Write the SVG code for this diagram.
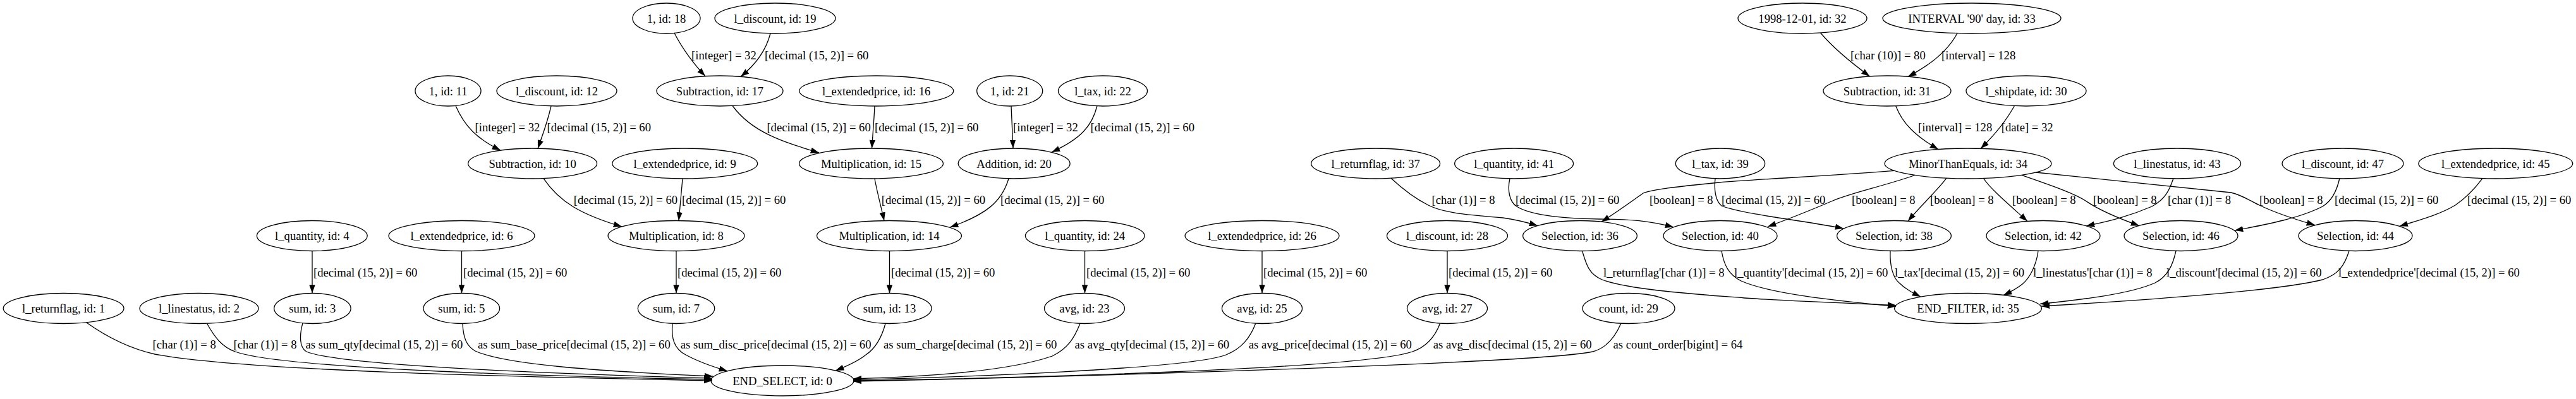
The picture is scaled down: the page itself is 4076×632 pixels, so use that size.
<svg xmlns="http://www.w3.org/2000/svg" width="4076" height="632" viewBox="0 0 4076 632">
<style>
.node ellipse{fill:none;stroke:#000;stroke-width:1.3}
text{font-family:"Liberation Serif","Times New Roman",serif;font-size:18.67px;fill:#000}
.node text{text-anchor:middle}
.edge path{fill:none;stroke:#000;stroke-width:1.3;marker-end:url(#arr)}
</style>
<defs>
<marker id="arr" markerUnits="userSpaceOnUse" markerWidth="14" markerHeight="10" refX="13.3" refY="4.7" orient="auto">
<path d="M0,0 L13.3,4.7 L0,9.4 Z" fill="#000"/>
</marker>
</defs>
<rect width="4076" height="632" fill="#fff"/>
<g id="nodes">
<g id="n18" class="node"><ellipse cx="1054.5" cy="29" rx="53.5" ry="24"/><text x="1054.5" y="35.5">1, id: 18</text></g>
<g id="n19" class="node"><ellipse cx="1226.5" cy="29" rx="95.5" ry="24"/><text x="1226.5" y="35.5">l_discount, id: 19</text></g>
<g id="n32" class="node"><ellipse cx="2852" cy="29" rx="102" ry="24"/><text x="2852" y="35.5">1998-12-01, id: 32</text></g>
<g id="n33" class="node"><ellipse cx="3120" cy="29" rx="141" ry="24"/><text x="3120" y="35.5">INTERVAL '90' day, id: 33</text></g>

<g id="n11" class="node"><ellipse cx="709" cy="144" rx="52" ry="24"/><text x="709" y="150.5">1, id: 11</text></g>
<g id="n12" class="node"><ellipse cx="881" cy="144" rx="95" ry="24"/><text x="881" y="150.5">l_discount, id: 12</text></g>
<g id="n17" class="node"><ellipse cx="1139" cy="144" rx="100" ry="24"/><text x="1139" y="150.5">Subtraction, id: 17</text></g>
<g id="n16" class="node"><ellipse cx="1386.7" cy="144" rx="122" ry="24"/><text x="1386.7" y="150.5">l_extendedprice, id: 16</text></g>
<g id="n21" class="node"><ellipse cx="1597.7" cy="144" rx="52" ry="24"/><text x="1597.7" y="150.5">1, id: 21</text></g>
<g id="n22" class="node"><ellipse cx="1745" cy="144" rx="70.5" ry="24"/><text x="1745" y="150.5">l_tax, id: 22</text></g>
<g id="n31" class="node"><ellipse cx="2986" cy="144" rx="101" ry="24"/><text x="2986" y="150.5">Subtraction, id: 31</text></g>
<g id="n30" class="node"><ellipse cx="3206" cy="144" rx="95" ry="24"/><text x="3206" y="150.5">l_shipdate, id: 30</text></g>

<g id="n10" class="node"><ellipse cx="842.6" cy="259" rx="102" ry="24"/><text x="842.6" y="265.5">Subtraction, id: 10</text></g>
<g id="n9" class="node"><ellipse cx="1083.7" cy="259" rx="115" ry="24"/><text x="1083.7" y="265.5">l_extendedprice, id: 9</text></g>
<g id="n15" class="node"><ellipse cx="1378.5" cy="259" rx="114" ry="24"/><text x="1378.5" y="265.5">Multiplication, id: 15</text></g>
<g id="n20" class="node"><ellipse cx="1604.6" cy="259" rx="88.5" ry="24"/><text x="1604.6" y="265.5">Addition, id: 20</text></g>
<g id="n37" class="node"><ellipse cx="2176.6" cy="259" rx="102" ry="24"/><text x="2176.6" y="265.5">l_returnflag, id: 37</text></g>
<g id="n41" class="node"><ellipse cx="2395.6" cy="259" rx="94" ry="24"/><text x="2395.6" y="265.5">l_quantity, id: 41</text></g>
<g id="n39" class="node"><ellipse cx="2722" cy="259" rx="70.7" ry="24"/><text x="2722" y="265.5">l_tax, id: 39</text></g>
<g id="n34" class="node"><ellipse cx="3114" cy="259" rx="132" ry="24"/><text x="3114" y="265.5">MinorThanEquals, id: 34</text></g>
<g id="n43" class="node"><ellipse cx="3445" cy="259" rx="100.6" ry="24"/><text x="3445" y="265.5">l_linestatus, id: 43</text></g>
<g id="n47" class="node"><ellipse cx="3707" cy="259" rx="96" ry="24"/><text x="3707" y="265.5">l_discount, id: 47</text></g>
<g id="n45" class="node"><ellipse cx="3948.8" cy="259" rx="122" ry="24"/><text x="3948.8" y="265.5">l_extendedprice, id: 45</text></g>

<g id="n4" class="node"><ellipse cx="493.8" cy="373.5" rx="87.4" ry="24"/><text x="493.8" y="380">l_quantity, id: 4</text></g>
<g id="n6" class="node"><ellipse cx="730.5" cy="373.5" rx="115.5" ry="24"/><text x="730.5" y="380">l_extendedprice, id: 6</text></g>
<g id="n8" class="node"><ellipse cx="1070" cy="373.5" rx="108" ry="24"/><text x="1070" y="380">Multiplication, id: 8</text></g>
<g id="n14" class="node"><ellipse cx="1407" cy="373.5" rx="114.5" ry="24"/><text x="1407" y="380">Multiplication, id: 14</text></g>
<g id="n24" class="node"><ellipse cx="1716.7" cy="373.5" rx="94.3" ry="24"/><text x="1716.7" y="380">l_quantity, id: 24</text></g>
<g id="n26" class="node"><ellipse cx="1997" cy="373.5" rx="122" ry="24"/><text x="1997" y="380">l_extendedprice, id: 26</text></g>
<g id="n28" class="node"><ellipse cx="2290" cy="373.5" rx="95.5" ry="24"/><text x="2290" y="380">l_discount, id: 28</text></g>
<g id="n36" class="node"><ellipse cx="2500" cy="373.5" rx="90.4" ry="24"/><text x="2500" y="380">Selection, id: 36</text></g>
<g id="n40" class="node"><ellipse cx="2722" cy="373.5" rx="90" ry="24"/><text x="2722" y="380">Selection, id: 40</text></g>
<g id="n38" class="node"><ellipse cx="2997" cy="373.5" rx="90.4" ry="24"/><text x="2997" y="380">Selection, id: 38</text></g>
<g id="n42" class="node"><ellipse cx="3233" cy="373.5" rx="90" ry="24"/><text x="3233" y="380">Selection, id: 42</text></g>
<g id="n46" class="node"><ellipse cx="3451" cy="373.5" rx="90" ry="24"/><text x="3451" y="380">Selection, id: 46</text></g>
<g id="n44" class="node"><ellipse cx="3727" cy="373.5" rx="90" ry="24"/><text x="3727" y="380">Selection, id: 44</text></g>

<g id="n1" class="node"><ellipse cx="100.6" cy="488.5" rx="95.4" ry="24"/><text x="100.6" y="495">l_returnflag, id: 1</text></g>
<g id="n2" class="node"><ellipse cx="315" cy="488.5" rx="94" ry="24"/><text x="315" y="495">l_linestatus, id: 2</text></g>
<g id="n3" class="node"><ellipse cx="494.4" cy="488.5" rx="60.7" ry="24"/><text x="494.4" y="495">sum, id: 3</text></g>
<g id="n5" class="node"><ellipse cx="730.3" cy="488.5" rx="60.3" ry="24"/><text x="730.3" y="495">sum, id: 5</text></g>
<g id="n7" class="node"><ellipse cx="1070" cy="488.5" rx="60.7" ry="24"/><text x="1070" y="495">sum, id: 7</text></g>
<g id="n13" class="node"><ellipse cx="1407.5" cy="488.5" rx="66.5" ry="24"/><text x="1407.5" y="495">sum, id: 13</text></g>
<g id="n23" class="node"><ellipse cx="1716" cy="488.5" rx="63.5" ry="24"/><text x="1716" y="495">avg, id: 23</text></g>
<g id="n25" class="node"><ellipse cx="1997" cy="488.5" rx="63.5" ry="24"/><text x="1997" y="495">avg, id: 25</text></g>
<g id="n27" class="node"><ellipse cx="2290" cy="488.5" rx="63.5" ry="24"/><text x="2290" y="495">avg, id: 27</text></g>
<g id="n29" class="node"><ellipse cx="2577" cy="488.5" rx="73" ry="24"/><text x="2577" y="495">count, id: 29</text></g>
<g id="n35" class="node"><ellipse cx="3114" cy="488.5" rx="116.4" ry="24"/><text x="3114" y="495">END_FILTER, id: 35</text></g>

<g id="n0" class="node"><ellipse cx="1238" cy="603" rx="113" ry="24"/><text x="1238" y="609.5">END_SELECT, id: 0</text></g>
</g>

<g id="connectors">
<g class="edge"><path d="M1067,52.3 C1080,78 1100,104 1116,120.6"/><text x="1094" y="93.5">[integer] = 32</text></g>
<g class="edge"><path d="M1219,53 C1212,80 1195,103 1172,121.3"/><text x="1210" y="93.5">[decimal (15, 2)] = 60</text></g>
<g class="edge"><path d="M721,167.4 C735,200 755,220 792,238"/><text x="751.6" y="208">[integer] = 32</text></g>
<g class="edge"><path d="M872,168 C866,195 858,215 851,235.2"/><text x="865.6" y="208">[decimal (15, 2)] = 60</text></g>
<g class="edge"><path d="M1159,167.5 C1190,210 1240,225 1296,242"/><text x="1213.4" y="208">[decimal (15, 2)] = 60</text></g>
<g class="edge"><path d="M1384,168 C1383,190 1381,212 1379.5,235"/><text x="1384" y="208">[decimal (15, 2)] = 60</text></g>
<g class="edge"><path d="M1600,168 C1601,190 1602,212 1603,235"/><text x="1603" y="208">[integer] = 32</text></g>
<g class="edge"><path d="M1736,167.5 C1728,200 1710,220 1664,241"/><text x="1725.6" y="208">[decimal (15, 2)] = 60</text></g>
<g class="edge"><path d="M860,282.6 C885,320 920,340 984,359"/><text x="907.7" y="322.5">[decimal (15, 2)] = 60</text></g>
<g class="edge"><path d="M1080,283 C1078,305 1076,327 1074,349.5"/><text x="1079" y="322.5">[decimal (15, 2)] = 60</text></g>
<g class="edge"><path d="M1384,283 C1388,305 1394,327 1399,349.6"/><text x="1394.7" y="322.5">[decimal (15, 2)] = 60</text></g>
<g class="edge"><path d="M1596,283 C1585,320 1560,340 1503,360"/><text x="1583" y="322.5">[decimal (15, 2)] = 60</text></g>
<g class="edge"><path d="M494,397.5 L494,464.5"/><text x="496" y="437.5">[decimal (15, 2)] = 60</text></g>
<g class="edge"><path d="M730.5,397.5 L730.5,464.5"/><text x="733" y="437.5">[decimal (15, 2)] = 60</text></g>
<g class="edge"><path d="M1070,397.5 L1070,464.5"/><text x="1072" y="437.5">[decimal (15, 2)] = 60</text></g>
<g class="edge"><path d="M1407.5,397.5 L1407.5,464.5"/><text x="1410" y="437.5">[decimal (15, 2)] = 60</text></g>
<g class="edge"><path d="M1716.5,397.5 L1716.5,464.5"/><text x="1719" y="437.5">[decimal (15, 2)] = 60</text></g>
<g class="edge"><path d="M1997,397.5 L1997,464.5"/><text x="1999" y="437.5">[decimal (15, 2)] = 60</text></g>
<g class="edge"><path d="M2290,397.5 L2290,464.5"/><text x="2292" y="437.5">[decimal (15, 2)] = 60</text></g>

<g class="edge"><path d="M136.6,510.7 C175,538 210,553 245,561 C400,590 900,598 1127,603"/><text x="241.6" y="551.5">[char (1)] = 8</text></g>
<g class="edge"><path d="M327.4,512.3 C340,535 352,550 372,557 C450,585 900,597 1127,601"/><text x="369.5" y="551.5">[char (1)] = 8</text></g>
<g class="edge"><path d="M479,511.7 C474,530 473,550 485,557 C540,580 900,593 1127,599"/><text x="483.6" y="551.5">as sum_qty[decimal (15, 2)] = 60</text></g>
<g class="edge"><path d="M732,512.5 C733,535 738,548 752,556 C800,578 950,588 1128,596"/><text x="756" y="551.5">as sum_base_price[decimal (15, 2)] = 60</text></g>
<g class="edge"><path d="M1064,512.5 C1062,535 1066,552 1085,562 C1105,573 1125,580 1151,587.8"/><text x="1076.8" y="551.5">as sum_disc_price[decimal (15, 2)] = 60</text></g>
<g class="edge"><path d="M1401,512.5 C1395,535 1385,552 1370,562 C1360,570 1340,580 1322,587"/><text x="1398" y="551.5">as sum_charge[decimal (15, 2)] = 60</text></g>
<g class="edge"><path d="M1709,512.5 C1700,535 1690,552 1665,564 C1590,590 1450,597 1350,600"/><text x="1700.5" y="551.5">as avg_qty[decimal (15, 2)] = 60</text></g>
<g class="edge"><path d="M1986.7,512.5 C1978,535 1965,552 1940,562 C1880,585 1500,598 1350,601.5"/><text x="1975.8" y="551.5">as avg_price[decimal (15, 2)] = 60</text></g>
<g class="edge"><path d="M2278.5,512.5 C2270,535 2255,550 2235,557 C2150,585 1600,599 1350,603"/><text x="2267.7" y="551.5">as avg_disc[decimal (15, 2)] = 60</text></g>
<g class="edge"><path d="M2564.8,512.5 C2555,535 2540,552 2520,557 C2440,575 1700,597 1350,604"/><text x="2552.6" y="551.5">as count_order[bigint] = 64</text></g>

<g class="edge"><path d="M2880.5,52 C2900,75 2930,100 2958.5,120.9"/><text x="2928" y="93.5">[char (10)] = 80</text></g>
<g class="edge"><path d="M3097,52.7 C3085,75 3060,100 3019,121.3"/><text x="3072" y="93.5">[interval] = 128</text></g>
<g class="edge"><path d="M2999.7,167.7 C3010,195 3030,215 3067,236.6"/><text x="3035" y="208">[interval] = 128</text></g>
<g class="edge"><path d="M3187.5,167.5 C3175,190 3160,210 3134,235.3"/><text x="3166.7" y="208">[date] = 32</text></g>

<g class="edge"><path d="M2997.6,270.3 C2900,278 2780,284 2720,289 C2650,296 2615,300 2600,306 C2580,320 2560,335 2534,351.3"/><text x="2610" y="322.5">[boolean] = 8</text></g>
<g class="edge"><path d="M2389,283 C2385,300 2388,320 2400,327 C2420,340 2470,346 2530,347 C2580,347 2610,350 2648,359.8"/><text x="2398" y="322.5">[decimal (15, 2)] = 60</text></g>
<g class="edge"><path d="M2201,282.3 C2220,300 2240,315 2260,325 C2290,340 2340,341 2378,345 C2400,348 2415,352 2433,357.4"/><text x="2265.5" y="322.5">[char (1)] = 8</text></g>
<g class="edge"><path d="M3030,277.5 C2980,295 2930,305 2900,318 C2860,335 2830,347 2797,359"/><text x="2930" y="322.5">[boolean] = 8</text></g>
<g class="edge"><path d="M2714,283 C2712,300 2714,318 2724,326 C2760,340 2860,350 2917,362"/><text x="2724" y="322.5">[decimal (15, 2)] = 60</text></g>
<g class="edge"><path d="M3080,282.2 C3065,302 3040,325 3019,350.2"/><text x="3054" y="322.5">[boolean] = 8</text></g>
<g class="edge"><path d="M3138.5,282.5 C3150,300 3180,325 3208,350.4"/><text x="3184" y="322.5">[boolean] = 8</text></g>
<g class="edge"><path d="M3199,277.4 C3240,292 3280,305 3300,318 C3320,332 3350,345 3385,357.6"/><text x="3312" y="322.5">[boolean] = 8</text></g>
<g class="edge"><path d="M3221,273 C3300,282 3450,296 3530,305 C3550,310 3560,318 3575,325 C3600,337 3630,347 3663,356.6"/><text x="3575" y="322.5">[boolean] = 8</text></g>
<g class="edge"><path d="M3438.8,283 C3433,300 3427,315 3405,327 C3370,342 3340,350 3301,357.8"/><text x="3430" y="322.5">[char (1)] = 8</text></g>
<g class="edge"><path d="M3701.8,283 C3698,300 3690,318 3675,327 C3640,345 3590,355 3536,365"/><text x="3694" y="322.5">[decimal (15, 2)] = 60</text></g>
<g class="edge"><path d="M3928,282.7 C3915,300 3900,315 3885,325 C3860,340 3830,348 3796.6,358.3"/><text x="3904" y="322.5">[decimal (15, 2)] = 60</text></g>

<g class="edge"><path d="M2503.6,397.5 C2510,420 2515,435 2535,443 C2580,460 2700,467 2760,472 C2850,478 2950,481 3000,483.6"/><text x="2537" y="437.5">l_returnflag'[char (1)] = 8</text></g>
<g class="edge"><path d="M2724,397.5 C2728,420 2735,435 2755,445 C2800,465 2900,476 3000,485.5"/><text x="2744" y="437.5">l_quantity'[decimal (15, 2)] = 60</text></g>
<g class="edge"><path d="M2991,397.5 C2990,420 2995,440 3005,448 C3015,458 3027,464 3039,470.1"/><text x="2998" y="437.5">l_tax'[decimal (15, 2)] = 60</text></g>
<g class="edge"><path d="M3225,397.5 C3222,420 3212,440 3200,450 C3190,458 3180,463 3170,467.5"/><text x="3217" y="437.5">l_linestatus'[char (1)] = 8</text></g>
<g class="edge"><path d="M3443,397.5 C3438,420 3430,438 3410,448 C3370,466 3290,475 3228,481.5"/><text x="3428" y="437.5">l_discount'[decimal (15, 2)] = 60</text></g>
<g class="edge"><path d="M3716.9,397.5 C3710,420 3700,435 3675,443 C3600,462 3350,478 3230,485"/><text x="3700" y="437.5">l_extendedprice'[decimal (15, 2)] = 60</text></g>
</g>
</svg>
